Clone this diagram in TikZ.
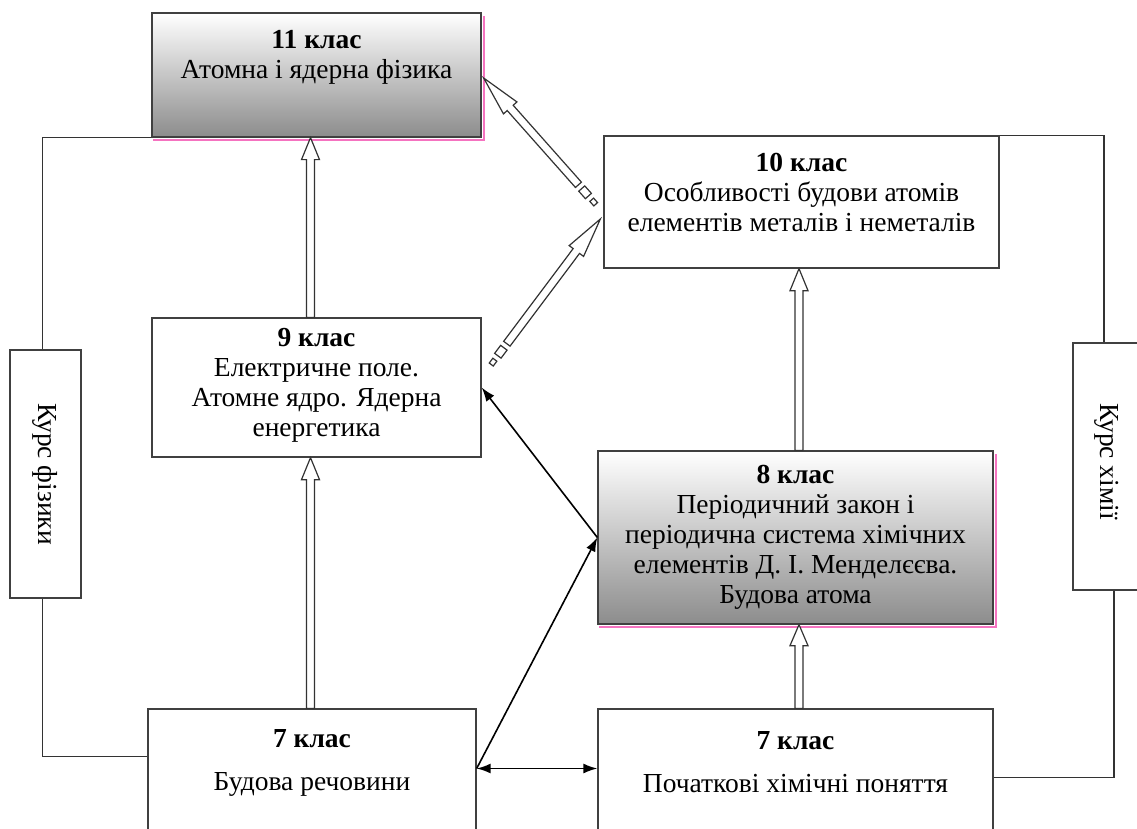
\documentclass[tikz,border=0pt]{standalone}
\usepackage{fontspec}
\setmainfont{Liberation Serif}
\usetikzlibrary{calc,arrows.meta}
\newcommand\hollowarr[4]{%
  \coordinate (hA) at ($(#1)!#3!(#2)$);
  \coordinate (hB) at (#2);
  \coordinate (hH) at ($(hB)!#4!(hA)$);
  \draw[hol] ($(hA)!4pt!90:(hB)$) -- ($(hH)!4pt!-90:(hA)$) -- ($(hH)!9pt!-90:(hA)$) -- (hB)
    -- ($(hH)!9pt!90:(hA)$) -- ($(hH)!4pt!90:(hA)$) -- ($(hA)!4pt!-90:(hB)$) -- cycle;}
\newcommand\dashrect[5]{%
  \coordinate (dP) at ($(#1)!#3!(#2)$);
  \coordinate (dQ) at ($(#1)!#4!(#2)$);
  \draw[hol] ($(dP)!#5!90:(#2)$) -- ($(dQ)!#5!90:(#2)$) -- ($(dQ)!#5!-90:(#2)$) -- ($(dP)!#5!-90:(#2)$) -- cycle;}
\tikzset{
  box/.style={draw=black!75, line width=1.3pt, inner sep=0pt, fill=white},
  grad/.style={top color=white, bottom color=black!45},
  shadowline/.style={draw=magenta!55, line width=2pt},
  lbl/.style={align=center, font=\fontsize{27.5}{30}\selectfont, inner sep=0pt},
  conn/.style={draw=black!80, line width=1.3pt},
  blk/.style={draw=black, line width=1.6pt},
  hol/.style={draw=black!80, line width=1.2pt, fill=white, line join=miter},
  tipb/.style={-{Latex[length=14pt,width=10pt]}}
}
\begin{document}
\begin{tikzpicture}[x=1pt,y=-1pt]
\useasboundingbox (0,0) rectangle (1137,829);
\clip (0,0) rectangle (1137,829);
\fill[white] (0,0) rectangle (1137,829);

% boxes
\node[box,grad,minimum width=329pt,minimum height=124pt] (b11) at (316.5,75) {};
\node[box,minimum width=395pt,minimum height=132pt] (b10) at (801.5,202) {};
\node[box,minimum width=329pt,minimum height=139pt] (b9) at (316.5,387.5) {};
\node[box,grad,minimum width=395pt,minimum height=173pt] (b8) at (795.5,537.5) {};
\node[box,minimum width=328pt,minimum height=125pt] (b7l) at (312,771.5) {};
\node[box,minimum width=395pt,minimum height=125pt] (b7r) at (795.5,771.5) {};
\node[box,minimum width=71pt,minimum height=248pt] (kf) at (45.5,474) {};
\node[box,minimum width=72pt,minimum height=247pt] (kh) at (1109,466.5) {};

% shadows
\draw[shadowline] ([xshift=2pt,yshift=-4pt]b11.north east) |- ([xshift=2pt,yshift=-2pt]b11.south west);
\draw[shadowline] ([xshift=2pt,yshift=-4pt]b8.north east) |- ([xshift=2pt,yshift=-2pt]b8.south west);

% texts
\node[lbl] (t11) at ([yshift=18pt]b11.center) {\textbf{11 клас}\\Атомна і ядерна фізика};
\node[lbl] (t10) at ([yshift=10pt]b10.center) {\textbf{10 клас}\\Особливості будови атомів\\елементів металів і неметалів};
\node[lbl] (t9) at ([yshift=2pt]b9.center) {\textbf{9 клас}\\Електричне поле.\\Атомне ядро. Ядерна\\енергетика};
\node[lbl] (t8) at (b8.center) {\textbf{8 клас}\\Періодичний закон і\\періодична система хімічних\\елементів Д. І. Менделєєва.\\Будова атома};
\node[lbl] (t7l) at ([yshift=9pt]b7l.center) {\textbf{7 клас}\\[13pt]Будова речовини};
\node[lbl] (t7r) at ([yshift=9pt]b7r.center) {\textbf{7 клас}\\[13pt]Початкові хімічні поняття};
\node[lbl,rotate=-90] (tkf) at (kf.center) {Курс фізики};
\node[lbl,rotate=-90] (tkh) at ([xshift=-2pt,yshift=5pt]kh.center) {Курс хімії};

% frame lines
\draw[conn] (b11.south west) -| ([xshift=-3pt]kf.north);
\draw[conn] ([xshift=-3pt]kf.south) |- ([yshift=15pt]b7l.west);
\draw[conn] (b10.north east) -| ([xshift=-5pt]kh.north);
\draw[conn] ([xshift=5pt]kh.south) |- ([yshift=-6pt]b7r.east);

% black arrows
\draw[blk,tipb] (b8.west) -- (b9.east);
\draw[blk,tipb] ([yshift=3pt]b7l.east) -- (b8.west);
\draw[blk,{Latex[length=14pt,width=10pt]}-{Latex[length=14pt,width=10pt]}] ([yshift=3pt]b7l.east) -- ([yshift=3pt]b7r.west);

% hollow vertical arrows
\coordinate (v1a) at ([xshift=-1.5pt]b7l.north);
\coordinate (v1b) at (v1a |- b9.south);
\coordinate (v2a) at (v1a |- b9.north);
\coordinate (v2b) at (v1a |- b11.south);
\coordinate (v3a) at ([xshift=3.5pt]b7r.north);
\coordinate (v3b) at (v3a |- b8.south);
\coordinate (v4a) at (v3a |- b8.north);
\coordinate (v4b) at (v3a |- b10.south);
\hollowarr{v1a}{v1b}{0pt}{22pt}
\hollowarr{v2a}{v2b}{0pt}{22pt}
\hollowarr{v3a}{v3b}{0pt}{21pt}
\hollowarr{v4a}{v4b}{0pt}{22pt}

% hollow diagonal arrows with dashed tails
\coordinate (d1a) at ([xshift=9pt,yshift=-48pt]b9.north east);
\coordinate (d1b) at ([xshift=-3pt,yshift=-17pt]b10.west);
\coordinate (d2a) at ([xshift=-7pt,yshift=-3pt]b10.west);
\coordinate (d2b) at ([xshift=2pt,yshift=-3pt]b11.east);
\hollowarr{d1a}{d1b}{27pt}{40pt}
\dashrect{d1a}{d1b}{1pt}{7pt}{2.5pt}
\dashrect{d1a}{d1b}{12pt}{22pt}{4pt}
\hollowarr{d2a}{d2b}{27pt}{40pt}
\dashrect{d2a}{d2b}{1pt}{7pt}{2.5pt}
\dashrect{d2a}{d2b}{12pt}{22pt}{4pt}
\end{tikzpicture}
\end{document}
